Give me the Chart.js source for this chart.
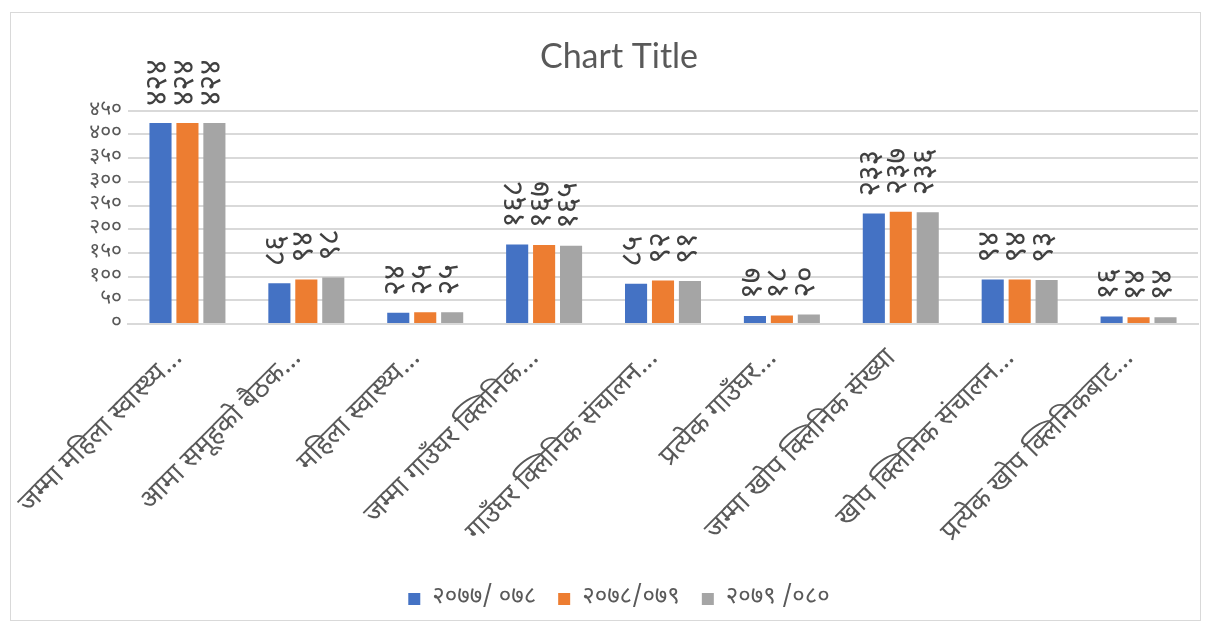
<!DOCTYPE html>
<html>
<head>
<meta charset="utf-8">
<script src="https://cdn.jsdelivr.net/npm/chart.js@4.4.1/dist/chart.umd.min.js"></script>
<style>
  html, body { margin: 0; padding: 0; background: #ffffff; }
  #wrap { position: relative; width: 1211px; height: 626px; }
  #frame { position: absolute; left: 10px; top: 12px; width: 1189px; height: 607px;
           border: 1px solid #d9d9d9; pointer-events: none; }
  canvas { position: absolute; left: 0; top: 0; }
</style>
</head>
<body>
<div id="wrap">
  <canvas id="chart" width="1211" height="626"></canvas>
  <div id="frame"></div>
</div>
<script>
// Categories (long names are shortened with an ellipsis on the axis)
const categories = [
  'जम्मा महिला स्वास्थ्य...',
  'आमा समूहको बैठक...',
  'महिला स्वास्थ्य...',
  'जम्मा गाउँघर क्लिनिक...',
  'गाउँघर क्लिनिक संचालन...',
  'प्रत्येक गाउँघर...',
  'जम्मा खोप क्लिनिक संख्या',
  'खोप क्लिनिक संचालन...',
  'प्रत्येक खोप क्लिनिकबाट...'
];

// Fiscal-year series
const seriesNames = ['२०७७/ ०७८', '२०७८/०७९', '२०७९ /०८०'];
const fy2077 = [424, 86, 24, 168, 85, 17, 233, 94, 16];
const fy2078 = [424, 94, 25, 167, 92, 18, 237, 94, 14];
const fy2079 = [424, 98, 25, 165, 91, 20, 236, 93, 14];

// Value axis tick labels (Devanagari numerals)
const yTickLabels = ['०', '५०', '१००', '१५०', '२००', '२५०', '३००', '३५०', '४००', '४५०'];

const seriesColors = ['#4472C4', '#ED7D31', '#A5A5A5'];
const textGrey = '#595959';
const devaFont = "'Noto Sans Devanagari', 'Noto Sans', 'Lato', sans-serif";

const devaDigits = ['०','१','२','३','४','५','६','७','८','९'];
function toDevanagari(n) {
  return String(n).replace(/[0-9]/g, d => devaDigits[+d]);
}

// Value labels above each bar, rotated to read bottom-to-top
const barValueLabels = {
  id: 'barValueLabels',
  afterDatasetsDraw(chart) {
    const ctx = chart.ctx;
    ctx.save();
    ctx.fillStyle = '#404040';
    ctx.font = '30px ' + devaFont;
    ctx.textAlign = 'left';
    ctx.textBaseline = 'middle';
    chart.data.datasets.forEach((ds, di) => {
      const meta = chart.getDatasetMeta(di);
      meta.data.forEach((bar, i) => {
        ctx.save();
        ctx.translate(bar.x, bar.y - 17);
        ctx.rotate(-Math.PI / 2);
        ctx.fillText(toDevanagari(ds.data[i]), 0, 0);
        ctx.restore();
      });
    });
    ctx.restore();
  }
};

new Chart(document.getElementById('chart'), {
  type: 'bar',
  data: {
    labels: categories,
    datasets: [
      { label: seriesNames[0], data: fy2077, backgroundColor: seriesColors[0] },
      { label: seriesNames[1], data: fy2078, backgroundColor: seriesColors[1] },
      { label: seriesNames[2], data: fy2079, backgroundColor: seriesColors[2] }
    ]
  },
  options: {
    responsive: false,
    animation: false,
    devicePixelRatio: 1,
    datasets: { bar: { categoryPercentage: 0.68, barPercentage: 0.82 } },
    layout: { padding: { left: 40, right: 13, top: 30, bottom: 5 } },
    plugins: {
      tooltip: { enabled: false },
      title: {
        display: true,
        text: 'Chart Title',
        color: textGrey,
        font: { family: "'Lato', 'Open Sans', sans-serif", size: 34, weight: 'normal' },
        padding: { top: 7, bottom: 33 }
      },
      legend: {
        position: 'bottom',
        labels: {
          color: textGrey,
          font: { family: devaFont, size: 24 },
          boxWidth: 12,
          boxHeight: 12,
          padding: 22
        }
      }
    },
    scales: {
      x: {
        grid: { display: false },
        border: { color: '#d9d9d9', width: 2 },
        ticks: {
          color: textGrey,
          font: { family: devaFont, size: 27 },
          minRotation: 45,
          maxRotation: 45,
          padding: 12,
          labelOffset: -8,
          autoSkip: false
        },
        afterFit(scale) { scale.height = 241; }
      },
      y: {
        min: 0,
        max: 450,
        grid: { color: '#d9d9d9', lineWidth: 2, drawTicks: false },
        border: { display: false },
        ticks: {
          stepSize: 50,
          autoSkip: false,
          color: textGrey,
          font: { family: devaFont, size: 21 },
          padding: 6,
          callback: (v, i) => yTickLabels[i]
        },
        afterFit(scale) { scale.width = 88; }
      }
    }
  },
  plugins: [barValueLabels]
});
</script>
</body>
</html>
